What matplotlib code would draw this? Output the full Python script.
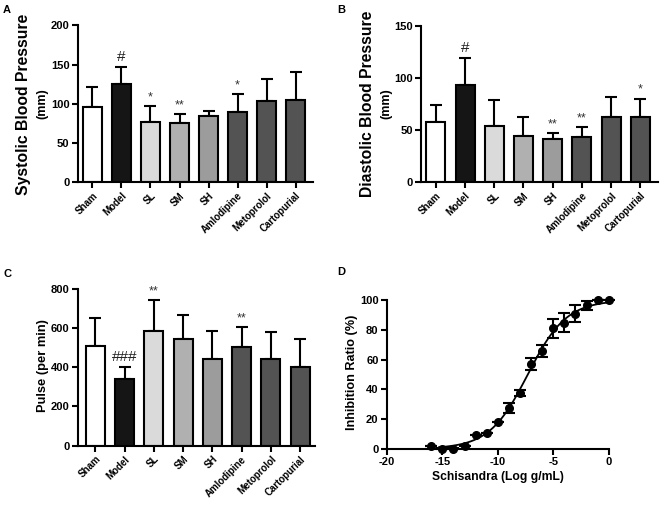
import numpy as np
import matplotlib
matplotlib.use("Agg")
import matplotlib.pyplot as plt

plt.rcParams['font.family'] = ['Liberation Sans', 'DejaVu Sans']
plt.rcParams['axes.unicode_minus'] = False

groups = ["Sham", "Model", "SL", "SM", "SH", "Amlodipine", "Metoprolol", "Cartopurial"]
bar_colors = ["#ffffff", "#151515", "#dadada", "#b0b0b0", "#9c9c9c", "#535353", "#535353", "#535353"]

sbp_mean = [96, 125, 77, 75, 84, 90, 104, 105]
sbp_sd = [25, 22, 20, 12, 7, 22, 28, 35]
sbp_marks = ["", "#", "*", "**", "", "*", "", ""]

dbp_mean = [58, 93, 54, 44, 41, 43, 62, 62]
dbp_sd = [16, 26, 25, 18, 6, 10, 20, 18]
dbp_marks = ["", "#", "", "", "**", "**", "", "*"]

pulse_mean = [510, 341, 586, 545, 443, 504, 442, 401]
pulse_sd = [142, 60, 154, 119, 141, 101, 139, 142]
pulse_marks = ["", "###", "**", "", "", "**", "", ""]

log_conc = [-16, -15, -14, -13, -12, -11, -10, -9, -8, -7, -6, -5, -4, -3, -2, -1, 0]
inhib = [2, 0, 0, 1.8, 9, 10.5, 17.8, 27.6, 37.5, 57, 66, 81, 85, 91, 96.5, 100, 100]
inhib_err = [0, 0.5, 0.5, 0, 0, 0, 0, 3.3, 2, 4.3, 4, 6.5, 6.2, 5.7, 3, 0, 0]


def style_axes(ax):
    for s in ["top", "right"]:
        ax.spines[s].set_visible(False)
    for s in ["left", "bottom"]:
        ax.spines[s].set_linewidth(1.5)
    ax.tick_params(width=1.5, length=4, labelsize=8, direction="out", pad=2)
    for lab in ax.get_yticklabels() + ax.get_xticklabels():
        lab.set_fontweight("bold")


def bar_panel(ax, means, sds, marks, ylim, yticks, xlim):
    x = np.arange(len(groups))
    ax.errorbar(x, means, yerr=[np.zeros(len(sds)), sds], fmt="none", ecolor="black",
                elinewidth=1.5, capsize=4.5, capthick=1.5, zorder=1)
    ax.bar(x, means, width=0.65, color=bar_colors, edgecolor="black", linewidth=1.5, zorder=2)
    for xi, m, s, t in zip(x, means, sds, marks):
        if t:
            ax.annotate(t, (xi, m + s), xytext=(0, 2), textcoords="offset points",
                        ha="center", va="bottom", fontsize=11 if "#" in t else 9,
                        color="#333333" if "*" in t else "#222222")
    ax.set_xlim(*xlim)
    ax.set_ylim(*ylim)
    ax.set_yticks(yticks)
    ax.set_xticks(x)
    ax.set_xticklabels(groups, rotation=45, ha="right", rotation_mode="anchor")
    style_axes(ax)
    ax.tick_params(axis="x", labelsize=7)


fig = plt.figure(figsize=(6.66, 5.09), dpi=100)
W, H = 666.0, 509.0
lab = dict(ha="center", va="center", fontweight="bold")

axA = fig.add_axes([0.117, 0.642, 0.353, 0.308])
bar_panel(axA, sbp_mean, sbp_sd, sbp_marks, (0, 200), [0, 50, 100, 150, 200], (-0.5, 7.6))
fig.text(24 / W, 1 - 104 / H, "Systolic Blood Pressure", rotation=90, fontsize=11.3, **lab)
fig.text(42 / W, 1 - 104 / H, "(mm)", rotation=90, fontsize=9, **lab)
fig.text(3 / W, 1 - 10 / H, "A", fontsize=8, fontweight="bold", va="center")

axB = fig.add_axes([0.6326, 0.642, 0.355, 0.3077])
bar_panel(axB, dbp_mean, dbp_sd, dbp_marks, (0, 150), [0, 50, 100, 150], (-0.5, 7.6))
fig.text(368 / W, 1 - 104 / H, "Diastolic Blood Pressure", rotation=90, fontsize=11.3, **lab)
fig.text(386 / W, 1 - 104 / H, "(mm)", rotation=90, fontsize=9, **lab)
fig.text(337 / W, 1 - 10 / H, "B", fontsize=8, fontweight="bold", va="center")

axC = fig.add_axes([0.1167, 0.1244, 0.356, 0.3084])
bar_panel(axC, pulse_mean, pulse_sd, pulse_marks, (0, 800), [0, 200, 400, 600, 800], (-0.6, 7.5))
fig.text(43 / W, 1 - 366 / H, "Pulse (per min)", rotation=90, fontsize=9.3, **lab)
fig.text(3 / W, 1 - 274 / H, "C", fontsize=8, fontweight="bold", va="center")

# panel D: dose-response with fitted sigmoid
axD = fig.add_axes([0.581, 0.1185, 0.333, 0.2916])
xd = np.array(log_conc, dtype=float)
yd = np.array(inhib, dtype=float)
best = None
for ec in np.linspace(-10, -5, 201):
    for h in np.linspace(0.1, 1.0, 181):
        pred = 100 / (1 + 10 ** ((ec - xd) * h))
        sse = np.sum((pred - yd) ** 2)
        if best is None or sse < best[0]:
            best = (sse, ec, h)
_, ec50, hill = best
xc = np.linspace(-15.3, 0, 300)
axD.plot(xc, 100 / (1 + 10 ** ((ec50 - xc) * hill)), color="black", lw=1.3, clip_on=False)
axD.errorbar(xd, yd, yerr=inhib_err, fmt="o", color="black", ms=5.5, elinewidth=1.5,
             capsize=4, capthick=1.5, clip_on=False, zorder=3)
axD.set_xlim(-20, 0)
axD.set_ylim(0, 100)
axD.set_xticks([-20, -15, -10, -5, 0])
axD.set_yticks([0, 20, 40, 60, 80, 100])
style_axes(axD)
fig.text(498 / W, 1 - 477 / H, "Schisandra (Log g/mL)", fontsize=8.7, **lab)
fig.text(352 / W, 1 - 372 / H, "Inhibition Ratio (%)", rotation=90, fontsize=9.1, **lab)
fig.text(337 / W, 1 - 272 / H, "D", fontsize=8, fontweight="bold", va="center")

fig.savefig("out.png", dpi=100)
